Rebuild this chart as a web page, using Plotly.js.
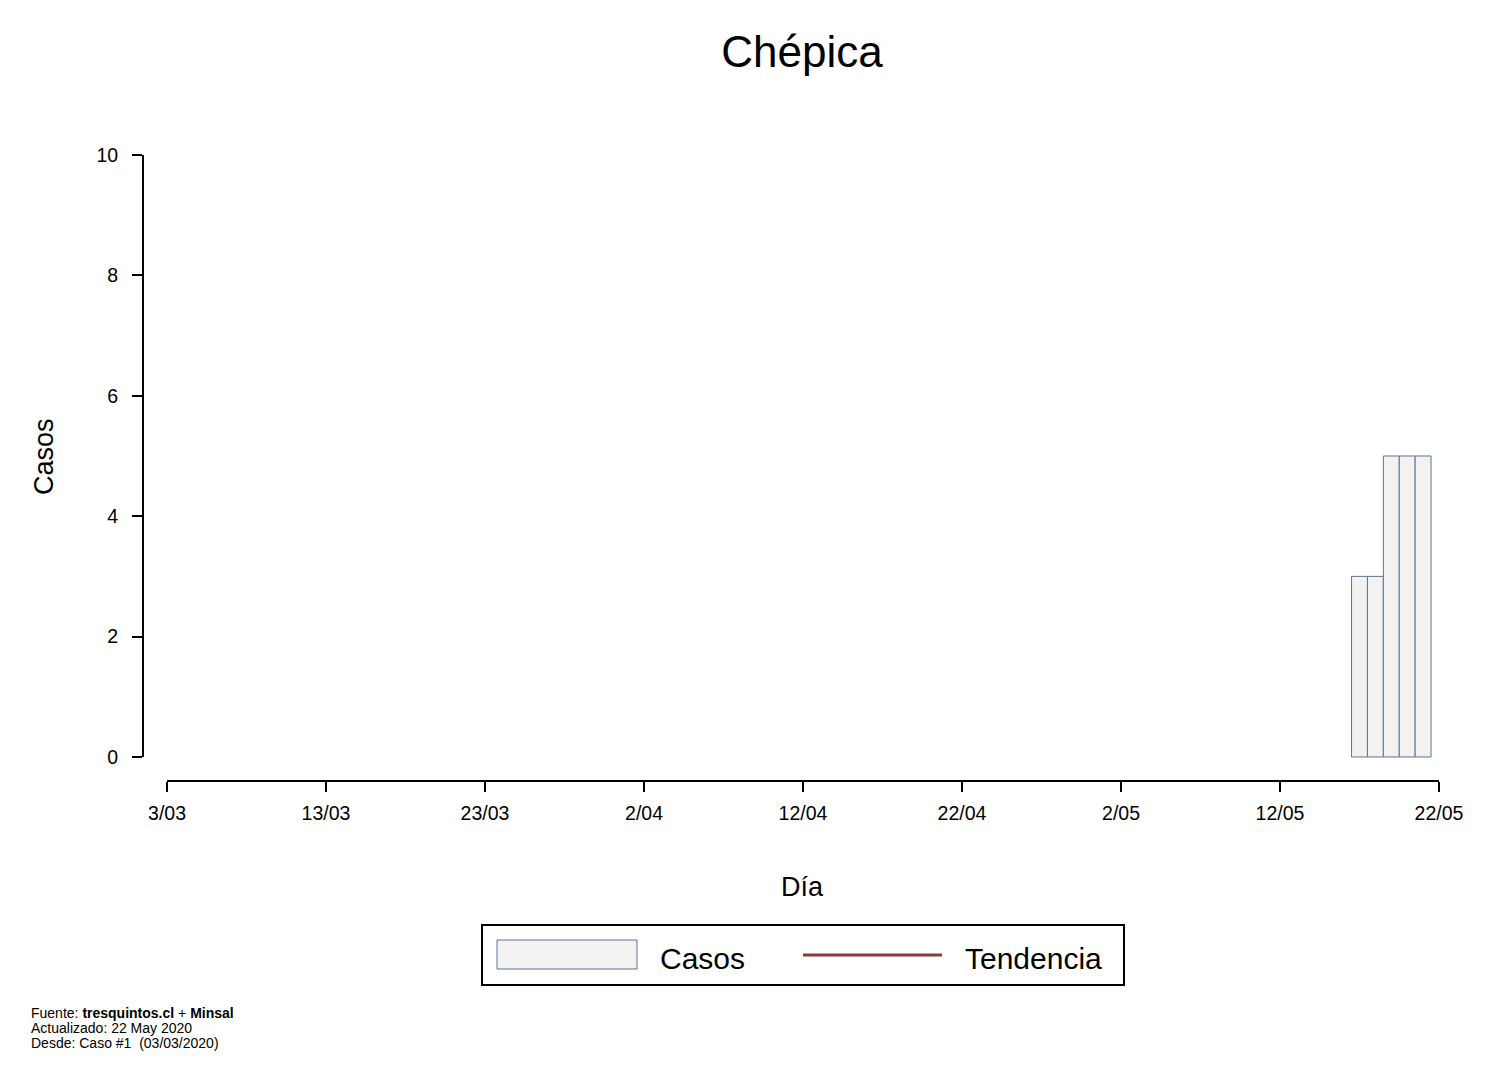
<!DOCTYPE html>
<html>
<head>
<meta charset="utf-8">
<script src="https://cdn.plot.ly/plotly-3.0.1.min.js"></script>
<style>
  html, body { margin: 0; padding: 0; background: #ffffff; }
  #chart { width: 1488px; height: 1082px; }
</style>
</head>
<body>
<div id="chart"></div>
<script>
// daily cases, Chépica (only days with reported cases)
var dias = ['2020-05-17', '2020-05-18', '2020-05-19', '2020-05-20', '2020-05-21'];
var casos = [3, 3, 5, 5, 5];

// trend line has no values in this picture
var tendenciaDias = [];
var tendencia = [];

var tickDias = ['2020-03-03', '2020-03-13', '2020-03-23', '2020-04-02', '2020-04-12',
                '2020-04-22', '2020-05-02', '2020-05-12', '2020-05-22'];
var tickTexto = ['3/03', '13/03', '23/03', '2/04', '12/04', '22/04', '2/05', '12/05', '22/05'];

var yTicks = [0, 2, 4, 6, 8, 10];

var fuente = ['Fuente: <b>tresquintos.cl</b> + <b>Minsal</b>',
              'Actualizado: 22 May 2020',
              'Desde: Caso #1  (03/03/2020)'];

var FONT = '"Liberation Sans", Arial, Helvetica, sans-serif';
var DAY = 86400000;

// plot area in pixels (to place the detached R-style axis lines and legend)
var L = 143, R = 1439, T = 155, B = 781;
function px(x) { return (x - L) / (R - L); }
function py(y) { return (B - y) / (B - T); }

var barras =
{
    type: 'bar',
    x: dias,
    y: casos,
    width: dias.map(function() { return DAY; }),
    marker:
    {
        color: '#f2f2f2',
        line: { color: '#5f7490', width: 1 }
    },
    name: 'Casos',
    showlegend: false,
    hoverinfo: 'x+y'
};

var linea =
{
    type: 'scatter',
    mode: 'lines',
    x: tendenciaDias,
    y: tendencia,
    line: { color: '#8b3a3e', width: 3 },
    name: 'Tendencia',
    showlegend: false
};

var anotaciones =
[
    {
        text: 'Día', xref: 'paper', yref: 'paper',
        x: px(802), y: py(887), xanchor: 'center', yanchor: 'middle',
        showarrow: false,
        font: { family: FONT, size: 27, color: '#000000' }
    },
    {
        text: 'Casos', xref: 'paper', yref: 'paper',
        x: px(44), y: py(456), xanchor: 'center', yanchor: 'middle',
        textangle: -90,
        showarrow: false,
        font: { family: FONT, size: 27, color: '#000000' }
    },
    {
        text: 'Casos', xref: 'paper', yref: 'paper',
        x: px(658), y: py(958), xanchor: 'left', yanchor: 'middle',
        showarrow: false,
        font: { family: FONT, size: 30, color: '#000000' }
    },
    {
        text: 'Tendencia', xref: 'paper', yref: 'paper',
        x: px(963), y: py(958), xanchor: 'left', yanchor: 'middle',
        showarrow: false,
        font: { family: FONT, size: 30, color: '#000000' }
    }
];

fuente.forEach(function(t, i) {
    anotaciones.push({
        text: t, xref: 'paper', yref: 'paper',
        x: px(29), y: py(1013 + 15 * i), xanchor: 'left', yanchor: 'middle',
        showarrow: false,
        font: { family: FONT, size: 14, color: '#000000' }
    });
});

var layout =
{
    width: 1488,
    height: 1082,
    paper_bgcolor: '#ffffff',
    plot_bgcolor: '#ffffff',
    font: { family: FONT, color: '#000000' },
    showlegend: false,
    bargap: 0,
    margin: { l: L, r: 1488 - R, t: T, b: 1082 - B, pad: 0 },
    title:
    {
        text: 'Chépica',
        font: { family: FONT, size: 44, color: '#000000' },
        x: px(802),
        xanchor: 'center',
        xref: 'paper',
        y: 1 - 52 / 1082,
        yref: 'container',
        yanchor: 'middle'
    },
    xaxis:
    {
        type: 'date',
        range: ['2020-03-01 11:46', '2020-05-22 00:00'],
        tickmode: 'array',
        tickvals: tickDias,
        ticktext: tickTexto,
        ticks: 'outside',
        ticklen: 10,
        tickwidth: 2,
        tickcolor: '#000000',
        ticklabelstandoff: 5,
        tickfont: { family: FONT, size: 19.5, color: '#000000' },
        showgrid: false,
        zeroline: false,
        showline: false,
        fixedrange: true
    },
    yaxis:
    {
        range: [-0.399, 10],
        tickmode: 'array',
        tickvals: yTicks,
        ticks: 'outside',
        ticklen: 10,
        tickwidth: 2,
        tickcolor: '#000000',
        ticklabelstandoff: 10,
        tickfont: { family: FONT, size: 19.5, color: '#000000' },
        showgrid: false,
        zeroline: false,
        showline: false,
        fixedrange: true
    },
    shapes:
    [
        // y axis line, from 0 to 10 only
        {
            type: 'line', xref: 'paper', yref: 'paper',
            x0: 0, x1: 0, y0: py(757), y1: py(155),
            line: { color: '#000000', width: 2 }
        },
        // x axis line, from first to last tick
        {
            type: 'line', xref: 'paper', yref: 'paper',
            x0: px(167), x1: px(1439), y0: 0, y1: 0,
            line: { color: '#000000', width: 2 }
        },
        // legend box
        {
            type: 'rect', xref: 'paper', yref: 'paper',
            x0: px(482), x1: px(1124), y0: py(985), y1: py(925),
            line: { color: '#000000', width: 2 },
            fillcolor: 'rgba(0,0,0,0)'
        },
        // legend swatch Casos
        {
            type: 'rect', xref: 'paper', yref: 'paper',
            x0: px(497), x1: px(637), y0: py(969), y1: py(940),
            line: { color: '#5f7490', width: 1 },
            fillcolor: '#f2f2f2'
        },
        // legend swatch Tendencia
        {
            type: 'line', xref: 'paper', yref: 'paper',
            x0: px(803), x1: px(942), y0: py(955), y1: py(955),
            line: { color: '#8b3a3e', width: 3 }
        }
    ],
    annotations: anotaciones
};

var config = { displayModeBar: false, staticPlot: true };

Plotly.newPlot('chart', [barras, linea], layout, config);
</script>
</body>
</html>
